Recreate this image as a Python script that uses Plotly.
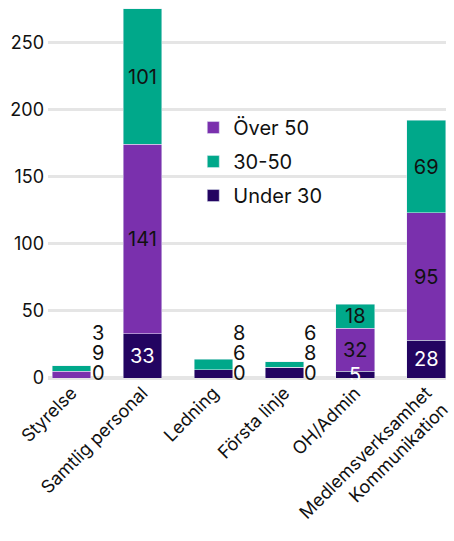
import plotly.graph_objects as go

categories = ["Styrelse", "Samtlig personal", "Ledning", "Första linje", "OH/Admin",
              "Medlemsverksamhet<br>Kommunikation"]
under_30 = [0, 33, 6, 8, 5, 28]
over_50 = [5, 141, 0, 0, 32, 95]
mid_30_50 = [4, 101, 8, 4, 18, 69]
# labels printed beside the small bars (top to bottom)
side_labels = {0: ["3", "9", "0"], 2: ["8", "6", "0"], 3: ["6", "8", "0"]}
y_ticks = [0, 50, 100, 150, 200, 250]

NAVY = "#230461"
PURPLE = "#7a30ad"
TEAL = "#00a88a"
FONT = "Inter"

def inside_text(vals, idx_skip):
    return [("" if i in idx_skip else str(v)) for i, v in enumerate(vals)]

skip = set(side_labels.keys())

fig = go.Figure()
common = dict(textposition="inside", insidetextanchor="middle", textangle=0,
              constraintext="none")
fig.add_trace(go.Bar(x=categories, y=under_30, name="Under 30", marker_color=NAVY,
                     legendrank=3, legendgroup="c"))
fig.add_trace(go.Bar(x=categories, y=over_50, name="Över 50", marker_color=PURPLE,
                     text=inside_text(over_50, skip),
                     textfont=dict(color="#111111", size=20, family=FONT),
                     legendrank=1, legendgroup="a", **common))
fig.add_trace(go.Bar(x=categories, y=mid_30_50, name="30-50", marker_color=TEAL,
                     text=inside_text(mid_30_50, skip),
                     textfont=dict(color="#111111", size=20, family=FONT),
                     legendrank=2, legendgroup="b", **common))

# Under 30 labels drawn on top so that small segments stay readable
for i, v in enumerate(under_30):
    if i in skip:
        continue
    fig.add_annotation(x=categories[i], y=v / 2, text=str(v), showarrow=False,
                       xanchor="center", yanchor="middle",
                       font=dict(size=20, family=FONT, color="white"))

for idx, labs in side_labels.items():
    n = len(labs)
    for j, lab in enumerate(labs):
        fig.add_annotation(x=categories[idx], y=0, text=lab, showarrow=False,
                           xanchor="left", yanchor="middle", xshift=18,
                           yshift=5 + 20 * (n - 1 - j),
                           font=dict(size=20, family=FONT, color="#111111"))

fig.update_layout(
    width=454, height=541,
    margin=dict(l=48, r=4, t=2, b=160),
    barmode="stack", bargap=0.456,
    plot_bgcolor="white", paper_bgcolor="white",
    font=dict(family=FONT, size=18, color="#111111"),
    showlegend=True,
    legend=dict(x=0.365, y=0.718, xanchor="left", yanchor="top", itemwidth=30,
                bgcolor="rgba(0,0,0,0)", traceorder="grouped", tracegroupgap=5,
                font=dict(size=20, family=FONT, color="#111111")),
    uniformtext=dict(mode="show", minsize=20),
)
fig.update_xaxes(range=[-0.332, 5.279], tickangle=-45, showgrid=False, showline=False,
                 ticks="", tickfont=dict(size=18, family=FONT, color="#111111"))
fig.update_yaxes(range=[0, 280], tickvals=y_ticks, showgrid=True, gridcolor="#e5e5e5",
                 gridwidth=3, zeroline=True, zerolinecolor="#e5e5e5", zerolinewidth=4,
                 showline=False, ticks="", ticklabelstandoff=3,
                 tickfont=dict(size=18, family=FONT, color="#111111"))

fig.write_html("out.html")
